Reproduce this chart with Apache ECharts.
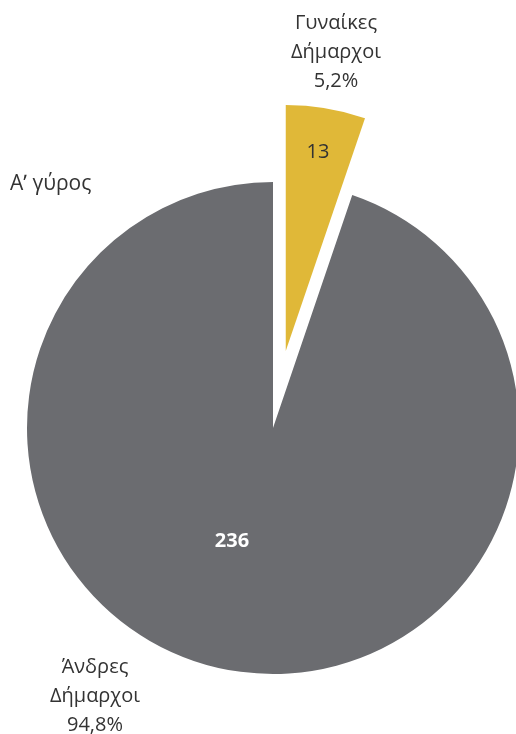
<!DOCTYPE html>
<html>
<head>
<meta charset="utf-8">
<script src="https://cdn.jsdelivr.net/npm/echarts@6/dist/echarts.min.js"></script>
<style>
html,body{margin:0;padding:0;background:#fff;}
#chart{width:516px;height:734px;}
</style>
</head>
<body>
<div id="chart"></div>
<script>
var title = 'Αʹ γύρος';
var categories = ['Γυναίκες Δήμαρχοι', 'Άνδρες Δήμαρχοι'];
var values = [13, 236];
var percentLabels = ['5,2%', '94,8%'];
var colors = ['#E0B838', '#6B6C70'];

var FONT = '"Open Sans", "Noto Sans", sans-serif';
var chart = echarts.init(document.getElementById('chart'), null, {renderer: 'canvas'});

var valueLabelPos = [[318, 152], [232, 541]];
var outerLabelPos = [[336, 52], [95, 696]];
var valueLabelStyles = [
  {color: '#333333', weight: 'normal'},
  {color: '#ffffff', weight: 'bold'}
];

var data = categories.map(function (c, i) {
  return {
    name: c,
    value: values[i],
    selected: i === 0,
    itemStyle: {color: colors[i]}
  };
});

var graphics = [{
  type: 'text', left: 10, top: 174,
  style: {text: title, font: '21px ' + FONT, fill: '#333333'}
}];
categories.forEach(function (c, i) {
  var parts = c.split(' ');
  graphics.push({
    type: 'text',
    x: outerLabelPos[i][0], y: outerLabelPos[i][1],
    style: {
      text: parts.concat([percentLabels[i]]).join('\n'),
      font: '20px ' + FONT,
      lineHeight: 29,
      fill: '#333333',
      align: 'center',
      verticalAlign: 'middle'
    }
  });
  graphics.push({
    type: 'text',
    x: valueLabelPos[i][0], y: valueLabelPos[i][1],
    z: 10,
    style: {
      text: String(values[i]),
      font: valueLabelStyles[i].weight + ' 20px ' + FONT,
      fill: valueLabelStyles[i].color,
      align: 'center',
      verticalAlign: 'middle'
    }
  });
});

chart.setOption({
  backgroundColor: '#ffffff',
  animation: false,
  graphic: graphics,
  series: [{
    type: 'pie',
    z: 1,
    center: [273, 428],
    radius: [0, 246],
    startAngle: 90,
    clockwise: true,
    selectedMode: 'single',
    selectedOffset: 78,
    emphasis: {disabled: true},
    label: {show: false},
    labelLine: {show: false},
    data: data
  }]
});
</script>
</body>
</html>
